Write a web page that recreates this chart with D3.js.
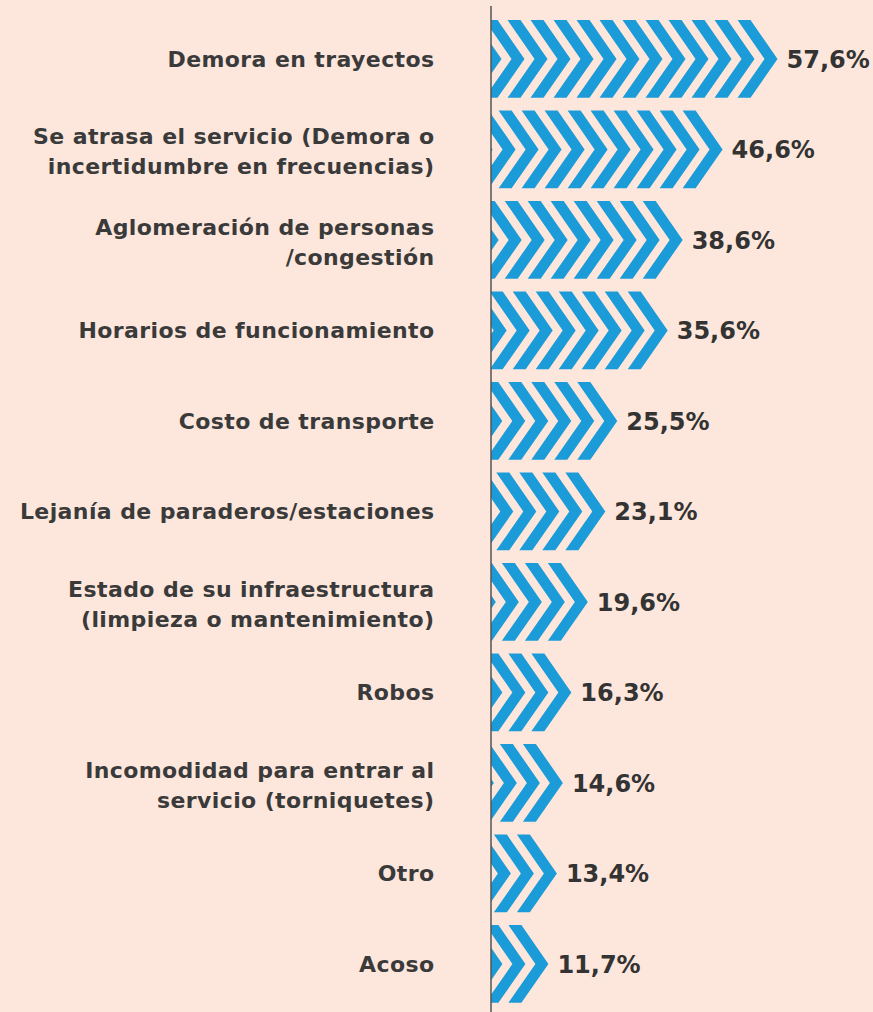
<!DOCTYPE html>
<html>
<head>
<meta charset="utf-8">
<script src="https://cdn.jsdelivr.net/npm/d3@7"></script>
<style>
  html, body { margin: 0; padding: 0; background: #fde7dc; }
  svg { display: block; }
</style>
</head>
<body>
<div id="chart"></div>
<script>
// data, top to bottom
const categories = [
	['Demora en trayectos'],
	['Se atrasa el servicio (Demora o', 'incertidumbre en frecuencias)'],
	['Aglomeración de personas', '/congestión'],
	['Horarios de funcionamiento'],
	['Costo de transporte'],
	['Lejanía de paraderos/estaciones'],
	['Estado de su infraestructura', '(limpieza o mantenimiento)'],
	['Robos'],
	['Incomodidad para entrar al', 'servicio (torniquetes)'],
	['Otro'],
	['Acoso'],
];
const values = [57.6, 46.6, 38.6, 35.6, 25.5, 23.1, 19.6, 16.3, 14.6, 13.4, 11.7];
const valueLabels = ['57,6%', '46,6%', '38,6%', '35,6%', '25,5%', '23,1%', '19,6%', '16,3%', '14,6%', '13,4%', '11,7%'];

const width = 873, height = 1012;
const axisX = 491;
const blue = '#1b9cd9';

// chevron shape
const chev = { w: 13, d: 27, step: 23 };

const svg = d3.select('#chart')
	.append('svg')
	.attr('width', width)
	.attr('height', height);

svg.append('rect')
	.attr('width', width)
	.attr('height', height)
	.attr('fill', '#fde7dc');

const ids = d3.range(values.length);

const x = d3.scaleLinear()
	.domain([0, 60])
	.range([490, 789.5]);

const y = d3.scaleBand()
	.domain(ids)
	.range([13.7, 1009.2])
	.paddingInner(0.14)
	.paddingOuter(0.07);

svg.append('clipPath')
	.attr('id', 'barclip')
	.append('rect')
	.attr('x', axisX)
	.attr('y', 0)
	.attr('width', width - axisX)
	.attr('height', height);

const bars = svg.append('g')
	.attr('clip-path', 'url(#barclip)')
	.selectAll('g')
	.data(ids)
	.join('g');

// each bar = a row of chevrons, drawn back from the tip
bars.selectAll('path')
	.data(i => {
		const tip = x(values[i]);
		const top = y(i), bot = top + y.bandwidth(), mid = top + y.bandwidth() / 2;
		const out = [];
		for (let x0 = tip - chev.w - chev.d; x0 + chev.w + chev.d > axisX; x0 -= chev.step) {
			out.push([
				[x0, top], [x0 + chev.w, top], [x0 + chev.w + chev.d, mid],
				[x0 + chev.w, bot], [x0, bot], [x0 + chev.d, mid]
			]);
		}
		return out;
	})
	.join('path')
	.attr('d', pts => d3.line()(pts) + 'Z')
	.attr('fill', blue);

svg.append('line')
	.attr('x1', axisX)
	.attr('x2', axisX)
	.attr('y1', 6)
	.attr('y2', height)
	.attr('stroke', '#555')
	.attr('stroke-width', 1.5);

// category labels
const lineH = 30;
svg.append('g')
	.selectAll('text')
	.data(ids)
	.join('text')
	.attr('text-anchor', 'end')
	.attr('font-family', "'DejaVu Sans', sans-serif")
	.attr('font-weight', 700)
	.attr('font-size', 22)
	.attr('letter-spacing', 0.4)
	.attr('fill', '#3a3a3a')
	.each(function(i) {
		const lines = categories[i];
		const c = y(i) + y.bandwidth() / 2 + (lines.length > 1 ? 2 : 0);
		d3.select(this).selectAll('tspan')
			.data(lines)
			.join('tspan')
			.attr('x', 434.5)
			.attr('y', (d, k) => c + (k - (lines.length - 1) / 2) * lineH)
			.attr('dy', '0.36em')
			.text(d => d);
	});

// value labels
svg.append('g')
	.selectAll('text')
	.data(ids)
	.join('text')
	.attr('x', i => x(values[i]) + 9)
	.attr('y', i => y(i) + y.bandwidth() / 2)
	.attr('dy', '0.37em')
	.attr('font-family', "'DejaVu Sans', sans-serif")
	.attr('font-weight', 700)
	.attr('font-size', 24)
	.attr('fill', '#333')
	.text(i => valueLabels[i]);
</script>
</body>
</html>
